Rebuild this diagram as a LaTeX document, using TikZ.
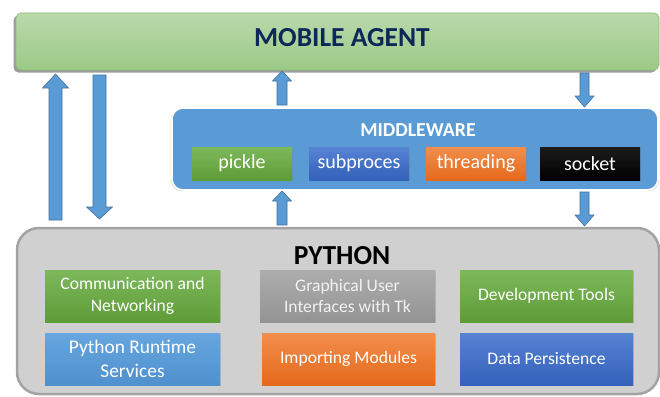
\documentclass[tikz,border=0pt]{standalone}
\usepackage{fontspec}
\setmainfont{Carlito}
\usetikzlibrary{shadows,calc}

\definecolor{agentTop}{HTML}{BAD9AC}
\definecolor{agentBot}{HTML}{9CC986}
\definecolor{agentEdge}{HTML}{8DBB78}
\definecolor{navy}{HTML}{0C2858}
\definecolor{mwblue}{HTML}{5B9BD5}
\definecolor{arrowEdge}{HTML}{41719C}
\definecolor{pyfill}{HTML}{D0D0D0}
\definecolor{pyedge}{HTML}{A3A3A3}
\definecolor{gTop}{HTML}{7DB85A}
\definecolor{gBot}{HTML}{5E9C38}
\definecolor{bTop}{HTML}{5683D3}
\definecolor{bBot}{HTML}{3461BA}
\definecolor{oTop}{HTML}{F28E4C}
\definecolor{oBot}{HTML}{E4691C}
\definecolor{kTop}{HTML}{1C1C1C}
\definecolor{kBot}{HTML}{000000}
\definecolor{grTop}{HTML}{ADADAD}
\definecolor{grBot}{HTML}{939393}
\definecolor{lbTop}{HTML}{67A6DE}
\definecolor{lbBot}{HTML}{4F90CE}

% vertical block arrow: base, tip, direction (1 up, -1 down),
% shaft half-width, head half-width, head length
\newcommand\blockarrow[6]{%
  \coordinate (hb) at ($(#2)+(0,{#3*#6})$);
  \draw[blockarrowstyle] ($(#1)+(-#4,0)$) -- ($(hb)+(-#4,0)$) -- ($(hb)+(-#5,0)$)
    -- (#2) -- ($(hb)+(#5,0)$) -- ($(hb)+(#4,0)$) -- ($(#1)+(#4,0)$) -- cycle;}

\begin{document}
\begin{tikzpicture}[x=1pt,y=-1pt,
  blockarrowstyle/.style={fill=mwblue, draw=arrowEdge, line width=0.6pt, line join=miter},
  agentbox/.style={top color=agentTop, bottom color=agentBot, draw=agentEdge, line width=0.6pt,
    rounded corners=5pt, inner sep=0pt,
    drop shadow={shadow xshift=-2.5pt, shadow yshift=-2.5pt, opacity=.55, fill=black!70}},
  mwbox/.style={fill=mwblue, draw=white, line width=1.6pt, rounded corners=11pt, inner sep=0pt,
    drop shadow={shadow xshift=0pt, shadow yshift=-1pt, opacity=.3, shadow scale=1.005}},
  pybox/.style={fill=pyfill, draw=pyedge, line width=2.5pt, rounded corners=22pt, inner sep=0pt},
  title/.style={font=\bfseries\fontsize{27.5}{31}\selectfont},
  pill/.style={minimum width=100pt, minimum height=33pt, inner sep=0pt, text=white,
    font=\fontsize{20}{23}\selectfont,
    drop shadow={shadow xshift=0.8pt, shadow yshift=-1pt, opacity=.3}},
  modbox/.style={minimum width=175pt, minimum height=52pt, inner sep=1pt, text=white,
    align=center, font=\fontsize{17.6}{21.5}\selectfont,
    drop shadow={shadow xshift=0.8pt, shadow yshift=-1.2pt, opacity=.35}},
  green/.style={top color=gTop, bottom color=gBot},
  blue/.style={top color=bTop, bottom color=bBot},
  orange/.style={top color=oTop, bottom color=oBot},
  black/.style={top color=kTop, bottom color=kBot},
  grey/.style={top color=grTop, bottom color=grBot},
  lightblue/.style={top color=lbTop, bottom color=lbBot}]

\useasboundingbox (0,0) rectangle (660,396);
\fill[white] (0,0) rectangle (660,396);

% mobile agent layer
\node[agentbox, minimum width=643pt, minimum height=57pt] (agent) at (337.5,41.5) {};
\node[title, text=navy] (agentT) at (342,38) {MOBILE AGENT};

% middleware layer
\node[mwbox, minimum width=486pt, minimum height=82pt] (mw) at (415,149) {};
\node[font=\bfseries\fontsize{19.8}{23}\selectfont, text=white] (mwT) at (418,130) {MIDDLEWARE};
\node[pill, green]  (pickle) at (242,163.5) {pickle};
\node[pill, blue]   (subp)   at (359,163.5) {subproces};
\node[pill, orange] (thr)    at (476,163.5) {threading};
\node[pill, black]  (sock)   at (590,163.5) {socket};

% python layer
\node[pybox, minimum width=642pt, minimum height=166pt] (py) at (338,311) {};
\node[title] (pyT) at (342,256) {PYTHON};
\node[modbox, green] (comm) at (132.5,296) {Communication and\\Networking};
\node[modbox, grey, text=white!95!black] (gui) at (347.5,296) {Graphical User\\Interfaces with Tk};
\node[modbox, green, minimum width=173pt] (dev) at (546.5,296) {Development Tools};
\node[modbox, lightblue, font=\fontsize{19.4}{23.5}\selectfont] (rt) at (132.5,359) {Python Runtime\\Services};
\node[modbox, orange, minimum width=173pt] (imp) at (348.5,359) {Importing Modules};
\node[modbox, blue, minimum width=173pt] (dp) at (546.5,359) {Data Persistence};

% connector end points
\coordinate (luB) at (55.5,220);  \coordinate (luT) at (55.5,74);
\coordinate (ldB) at (99.5,75);   \coordinate (ldT) at (99.5,219);
\coordinate (muB) at (282,105);   \coordinate (muT) at (282,71);
\coordinate (rdB) at (584.5,73);  \coordinate (rdT) at (584.5,107);
\coordinate (buB) at (282,225);   \coordinate (buT) at (282,191);
\coordinate (bdB) at (584.5,192); \coordinate (bdT) at (584.5,226);

\blockarrow{luB}{luT}{1}{6.5}{13}{14}
\blockarrow{ldB}{ldT}{-1}{6.5}{13}{12}
\blockarrow{muB}{muT}{1}{5}{9.5}{10}
\blockarrow{rdB}{rdT}{-1}{4.5}{9.5}{11}
\blockarrow{buB}{buT}{1}{5}{9.5}{10}
\blockarrow{bdB}{bdT}{-1}{4.5}{9.5}{11}
\end{tikzpicture}
\end{document}
